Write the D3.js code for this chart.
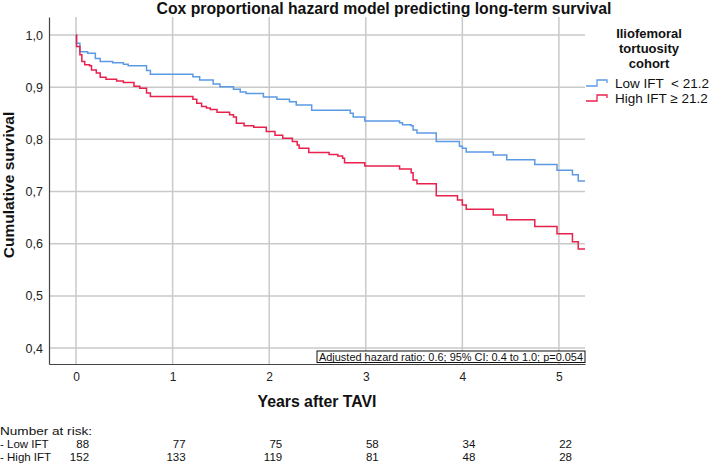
<!DOCTYPE html>
<html><head><meta charset="utf-8">
<script src="https://cdn.jsdelivr.net/npm/d3@7"></script>
<style>
html,body{margin:0;padding:0;background:#fff;}
svg{display:block;font-family:"Liberation Sans",Arial,sans-serif;}
</style></head>
<body><svg id="c" width="709" height="464"></svg>
<script>
const lowTimes = [0,0.005,0.04,0.12,0.2,0.25,0.38,0.49,0.54,0.73,0.77,1.21,1.28,1.42,1.49,1.63,1.70,1.76,1.94,2.08,2.21,2.28,2.44,2.84,2.87,2.99,3.35,3.38,3.47,3.49,3.53,3.73,3.97,4.0,4.04,4.32,4.46,4.75,4.98,5.14,5.20,5.27];
const lowSurv  = [1.0,0.984,0.968,0.965,0.955,0.949,0.947,0.944,0.941,0.932,0.925,0.920,0.914,0.906,0.901,0.896,0.891,0.888,0.881,0.877,0.872,0.866,0.856,0.850,0.843,0.835,0.832,0.828,0.826,0.818,0.812,0.796,0.787,0.783,0.776,0.770,0.761,0.752,0.741,0.732,0.720,0.720];
const highTimes = [0,0.005,0.04,0.06,0.09,0.14,0.16,0.21,0.25,0.31,0.42,0.49,0.60,0.66,0.73,0.77,1.21,1.25,1.30,1.35,1.39,1.46,1.59,1.63,1.66,1.74,1.84,1.97,2.06,2.14,2.24,2.29,2.31,2.41,2.62,2.71,2.76,2.78,2.99,3.35,3.47,3.49,3.53,3.73,3.95,4.0,4.04,4.32,4.46,4.75,4.98,5.14,5.20,5.27];
const highSurv  = [1.0,0.978,0.962,0.949,0.943,0.941,0.933,0.927,0.919,0.915,0.912,0.909,0.902,0.898,0.889,0.882,0.877,0.869,0.863,0.860,0.857,0.852,0.847,0.843,0.831,0.826,0.823,0.815,0.808,0.802,0.796,0.789,0.783,0.775,0.771,0.768,0.764,0.755,0.749,0.743,0.736,0.722,0.715,0.692,0.684,0.674,0.666,0.655,0.646,0.633,0.619,0.604,0.590,0.590];
const xTicks = [0,1,2,3,4,5];
const yTicks = [0.4,0.5,0.6,0.7,0.8,0.9,1.0];
const yTickLabels = ["0,4","0,5","0,6","0,7","0,8","0,9","1,0"];
const legendTitle = ["Iliofemoral","tortuosity","cohort"];
const seriesNames = ["Low IFT  < 21.2","High IFT \u2265 21.2"];
const riskYears = [0,1,2,3,4,5];
const riskGroups = ["- Low IFT","- High IFT"];
const lowRisk = [88,77,75,58,34,22];
const highRisk = [152,133,119,81,48,28];
const titleText = "Cox proportional hazard model predicting long-term survival";
const annotText = "Adjusted hazard ratio: 0.6; 95% CI: 0.4 to 1.0; p=0.054";

const colors = ["#5b9be3","#e8204c"];
const svg = d3.select("#c");
const x = d3.scaleLinear().domain([-0.28,5.27]).range([49,585]);
const y = d3.scaleLinear().domain([0.3695,1.0345]).range([364,17]);

// grid
const grid = svg.append("g");
grid.selectAll("line.h").data(yTicks).join("line")
  .attr("x1",49).attr("x2",585).attr("y1",d=>y(d)).attr("y2",d=>y(d))
  .attr("stroke","#c9c9c9").attr("stroke-width",1.5);
grid.selectAll("line.v").data(xTicks).join("line")
  .attr("y1",17).attr("y2",364).attr("x1",d=>x(d)).attr("x2",d=>x(d))
  .attr("stroke","#c9c9c9").attr("stroke-width",1.5);

// axes
const yAxis = d3.axisLeft(y).tickValues(yTicks).tickSize(0).tickPadding(6)
  .tickFormat((d,i)=>yTickLabels[i]);
const gy = svg.append("g").attr("transform","translate(49,0)").call(yAxis);
gy.select(".domain").attr("stroke","#444").attr("stroke-width",1.2);
gy.selectAll("text").attr("font-size",12.5).attr("fill","#222").attr("font-family","Liberation Sans, Arial, sans-serif");

const xAxis = d3.axisBottom(x).tickValues(xTicks).tickSize(0).tickPadding(8).tickFormat(d3.format("d"));
const gx = svg.append("g").attr("transform","translate(0,364)").call(xAxis);
gx.select(".domain").attr("stroke","#444").attr("stroke-width",1.2);
gx.selectAll("text").attr("font-size",12).attr("fill","#222").attr("font-family","Liberation Sans, Arial, sans-serif");

// curves
const line = d3.line().x(d=>x(d[0])).y(d=>y(d[1])).curve(d3.curveStepAfter);
const lowData = lowTimes.map((t,i)=>[t,lowSurv[i]]);
const highData = highTimes.map((t,i)=>[t,highSurv[i]]);
svg.append("path").attr("d",line(lowData)).attr("fill","none").attr("stroke",colors[0]).attr("stroke-width",1.5);
svg.append("path").attr("d",line(highData)).attr("fill","none").attr("stroke",colors[1]).attr("stroke-width",1.5);

// annotation box
const ag = svg.append("g");
ag.append("rect").attr("x",317).attr("y",351).attr("width",268).attr("height",11.5)
  .attr("fill","#fff").attr("stroke","#111").attr("stroke-width",1);
ag.append("text").attr("x",319).attr("y",360.5).attr("font-size",11.5)
  .attr("textLength",264).attr("lengthAdjust","spacingAndGlyphs").attr("fill","#111").text(annotText);

// title
svg.append("text").attr("x",384).attr("y",14).attr("text-anchor","middle")
  .attr("font-size",16).attr("font-weight","bold").attr("fill","#111")
  .attr("textLength",455).attr("lengthAdjust","spacingAndGlyphs").text(titleText);

// axis titles
svg.append("text").attr("transform","translate(14,185) rotate(-90)").attr("text-anchor","middle")
  .attr("font-size",15.5).attr("font-weight","bold").attr("fill","#111").text("Cumulative survival");
svg.append("text").attr("x",317).attr("y",407).attr("text-anchor","middle")
  .attr("font-size",16).attr("font-weight","bold").attr("fill","#111")
  .attr("textLength",119).attr("lengthAdjust","spacingAndGlyphs").text("Years after TAVI");

// legend
const lg = svg.append("g");
legendTitle.forEach((t,i)=>{
  lg.append("text").attr("x",649).attr("y",38+i*15).attr("text-anchor","middle")
    .attr("font-size",13).attr("font-weight","bold").attr("fill","#111").text(t);
});
seriesNames.forEach((name,i)=>{
  const cy = 83 + i*15;
  lg.append("path").attr("d",`M586,${cy+3}H597V${cy-3}H607V${cy}`)
    .attr("fill","none").attr("stroke",colors[i]).attr("stroke-width",1.3);
  lg.append("text").attr("x",615).attr("y",cy+5).attr("font-size",13.5).attr("fill","#111")
    .attr("xml:space","preserve").style("white-space","pre").text(name);
});

// risk table
const rt = svg.append("g").attr("font-size",11.5).attr("fill","#111");
rt.append("text").attr("x",0).attr("y",435).attr("textLength",92).attr("lengthAdjust","spacingAndGlyphs").text("Number at risk:");
[lowRisk,highRisk].forEach((vals,g)=>{
  const yy = 448 + g*13;
  rt.append("text").attr("x",0).attr("y",yy).text(riskGroups[g]);
  rt.selectAll(null).data(vals).join("text")
    .attr("x",(d,i)=>x(riskYears[i])+13).attr("y",yy).attr("text-anchor","end").text(d=>d);
});
</script></body></html>
